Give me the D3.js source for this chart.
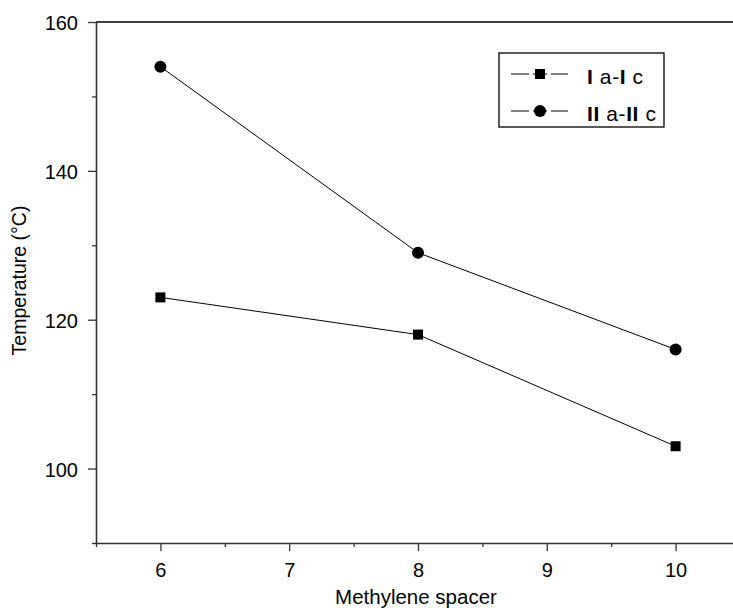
<!DOCTYPE html>
<html>
<head>
<meta charset="utf-8">
<script src="https://cdn.jsdelivr.net/npm/d3@7"></script>
<style>
  body { margin: 0; background: #fff; }
  svg { display: block; }
  svg text { font-family: "Liberation Sans", Arial, sans-serif; }
</style>
</head>
<body>
<div id="chart"></div>
<script>
  // Data
  const spacer = [6, 8, 10];
  const seriesI = [123, 118, 103];
  const seriesII = [154, 129, 116];
  const xTicks = [6, 7, 8, 9, 10];
  const yTicks = [100, 120, 140, 160];
  const legendLabels = [['I', ' a-', 'I', ' c'], ['II', ' a-', 'II', ' c']];

  const W = 733, H = 611;
  const svg = d3.select('#chart').append('svg')
    .attr('width', W).attr('height', H);

  const x = d3.scaleLinear().domain([5.5, 10.5]).range([96, 740]);
  const y = d3.scaleLinear().domain([90, 160]).range([543, 22]);

  // Top frame line
  svg.append('line')
    .attr('x1', x(5.5)).attr('x2', W)
    .attr('y1', y(160)).attr('y2', y(160))
    .attr('stroke', '#000').attr('stroke-width', 1.6);

  // Axes: major ticks with labels, minor ticks without
  const xAxis = svg.append('g').attr('transform', `translate(0,${y(90)})`)
    .call(d3.axisBottom(x).tickValues(xTicks).tickFormat(d3.format('d')).tickSize(8).tickSizeOuter(0));
  svg.append('g').attr('transform', `translate(0,${y(90)})`)
    .call(d3.axisBottom(x).tickValues(d3.range(5.5, 10.6, 1)).tickFormat('').tickSize(4).tickSizeOuter(0))
    .select('.domain').remove();

  const yAxis = svg.append('g').attr('transform', `translate(${x(5.5)},0)`)
    .call(d3.axisLeft(y).tickValues(yTicks).tickSize(8).tickSizeOuter(0));
  svg.append('g').attr('transform', `translate(${x(5.5)},0)`)
    .call(d3.axisLeft(y).tickValues([90, 110, 130, 150]).tickFormat('').tickSize(4).tickSizeOuter(0))
    .select('.domain').remove();

  svg.selectAll('.domain').attr('stroke', '#333').attr('stroke-width', 1.6);
  svg.selectAll('.tick line').attr('stroke', '#333').attr('stroke-width', 1.3);
  svg.selectAll('g').attr('font-family', null);
  xAxis.selectAll('.tick text').attr('font-size', 20).attr('fill', '#000').attr('dy', '1.15em');
  yAxis.selectAll('.tick text').attr('font-size', 20).attr('fill', '#000')
    .attr('dx', '-0.35em').attr('dy', '0.38em');

  // Axis titles
  svg.append('text')
    .attr('x', 416).attr('y', 604)
    .attr('text-anchor', 'middle').attr('font-size', 20.5)
    .text('Methylene spacer');
  svg.append('text')
    .attr('transform', `translate(26,${(y(90) + y(160)) / 2 - 2}) rotate(-90)`)
    .attr('text-anchor', 'middle').attr('font-size', 19.5)
    .text('Temperature (°C)');

  const line = d3.line().x((d, i) => x(spacer[i])).y(d => y(d));

  // Series I: squares
  svg.append('path').datum(seriesI)
    .attr('d', line).attr('fill', 'none').attr('stroke', '#000').attr('stroke-width', 1);
  svg.selectAll('rect.pt').data(seriesI).enter().append('rect')
    .attr('class', 'pt')
    .attr('x', (d, i) => x(spacer[i]) - 5).attr('y', d => y(d) - 5)
    .attr('width', 10).attr('height', 10).attr('fill', '#000');

  // Series II: circles
  svg.append('path').datum(seriesII)
    .attr('d', line).attr('fill', 'none').attr('stroke', '#000').attr('stroke-width', 1);
  svg.selectAll('circle.pt').data(seriesII).enter().append('circle')
    .attr('class', 'pt')
    .attr('cx', (d, i) => x(spacer[i])).attr('cy', d => y(d))
    .attr('r', 6).attr('fill', '#000');

  // Legend
  const legend = svg.append('g').attr('transform', 'translate(499,53)');
  legend.append('rect')
    .attr('width', 165).attr('height', 74)
    .attr('fill', '#fff').attr('stroke', '#000').attr('stroke-width', 1.3);

  legendLabels.forEach((parts, i) => {
    const row = legend.append('g').attr('transform', `translate(0,${21 + i * 37})`);
    row.append('line').attr('x1', 12).attr('x2', 69).attr('y1', 0).attr('y2', 0)
      .attr('stroke', '#000').attr('stroke-width', 1);
    if (i === 0) {
      row.append('rect').attr('x', 36).attr('y', -5).attr('width', 10).attr('height', 10)
        .attr('fill', '#000');
    } else {
      row.append('circle').attr('cx', 41).attr('cy', 0).attr('r', 6).attr('fill', '#000');
    }
    row.append('rect').attr('x', 30).attr('y', -3).attr('width', 4).attr('height', 6).attr('fill', '#fff');
    row.append('rect').attr('x', 48).attr('y', -3).attr('width', 4).attr('height', 6).attr('fill', '#fff');
    const t = row.append('text').attr('x', 88).attr('y', 10)
      .attr('font-size', 21).attr('letter-spacing', 0.6);
    parts.forEach((p, j) => {
      t.append('tspan').attr('font-weight', j % 2 === 0 ? 'bold' : 'normal').text(p);
    });
  });
</script>
</body>
</html>
